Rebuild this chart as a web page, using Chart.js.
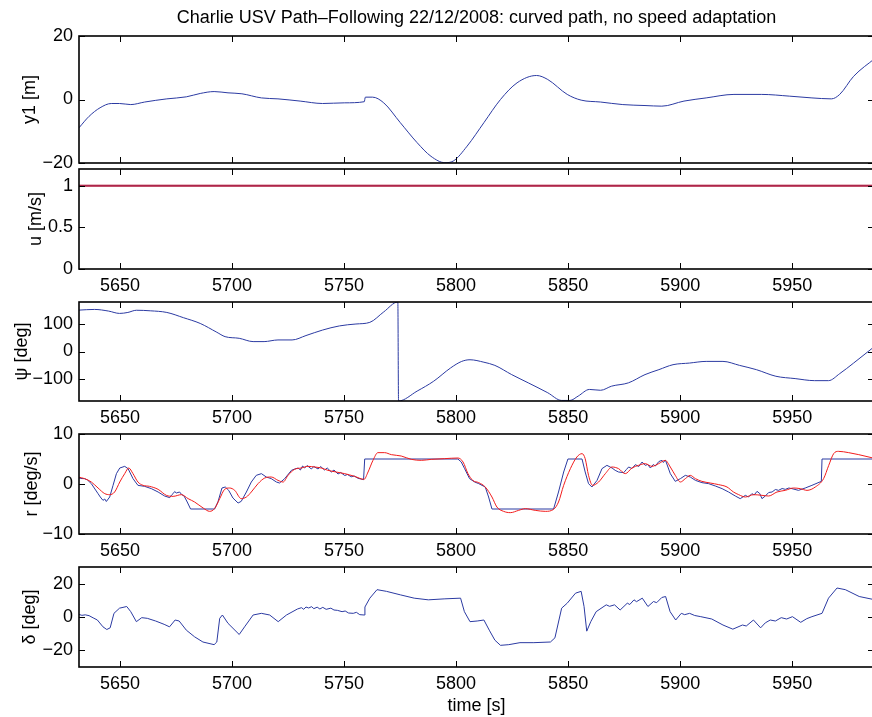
<!DOCTYPE html>
<html lang="en">
<head>
  <meta charset="UTF-8" />
  <title>Charlie USV Path-Following 22/12/2008</title>
  <style>
    html, body { margin: 0; padding: 0; background: #fff; overflow: hidden; }
    canvas.panel { position: absolute; left: 0; }
  </style>
</head>
<body>

  <canvas id="pY1" class="panel" width="874" height="175" style="top:0px"></canvas>
  <canvas id="pU" class="panel" width="874" height="142" style="top:157px"></canvas>
  <canvas id="pPsi" class="panel" width="874" height="141" style="top:290px"></canvas>
  <canvas id="pR" class="panel" width="874" height="142" style="top:422px"></canvas>
  <canvas id="pDelta" class="panel" width="874" height="162" style="top:555px"></canvas>

  <script src="https://cdn.jsdelivr.net/npm/chart.js@4.4.0/dist/chart.umd.min.js"></script>
  <script>
    // time axis
    const xRange = [5631.7, 5986.5];
    const xTicks = [5650, 5700, 5750, 5800, 5850, 5900, 5950];

    // y tick values for each panel
    const y1Ticks = [-20, 0, 20];
    const uTicks = [0, 0.5, 1];
    const psiTicks = [-100, 0, 100];
    const rTicks = [-10, 0, 10];
    const deltaTicks = [-20, 0, 20];

    // cross-track error y1 [m]  (time, value)
    const y1 = [[5631.7,-8.9],[5636.2,-5.3],[5641.1,-2.6],[5646.1,-1.26],[5649.8,-1.26],[5654.8,-1.6],[5661,-0.8],
      [5670.9,0.2],[5679.6,0.84],[5685.8,1.9],[5692,2.5],[5698.2,2.1],[5704.4,1.8],[5713.1,0.5],[5720.5,0.2],
      [5730.4,-0.5],[5740.4,-1.26],[5750.3,-1.05],[5759,-0.7],[5759.5,0.74],[5762.7,0.74],[5767.7,-1.05],
      [5775.1,-7.3],[5782.6,-13.6],[5788.8,-17.9],[5795,-19.9],[5798.7,-19.4],[5804.9,-14.7],[5812.4,-7.3],
      [5819.8,0],[5827.2,5.25],[5835.9,7.56],[5840.9,6.3],[5849.6,1.6],[5855.8,-0.2],[5864.5,-0.8],[5874.4,-1.6],
      [5884.3,-1.9],[5891.8,-2.1],[5901.7,-0.5],[5911.6,0.5],[5924,1.6],[5936.4,1.6],[5948.9,1.05],[5958.8,0.5],
      [5967.5,0.2],[5971.2,1.6],[5977.4,7.3],[5987,13]];

    // surge speed u [m/s]: desired and measured
    const uDesired = [[5631,1],[5987,1]];
    const uMeasured = [[5631,1],[5987,1]];

    // heading psi [deg]
    const psi = [[5631.7,150.5],[5638.6,153],[5644.9,147],[5649.8,138.5],[5653.5,142],[5657.3,150],[5663.5,148],
      [5670.9,142],[5678.3,123],[5685.8,102],[5693.2,70],[5696.9,54],[5703.2,48],[5709.4,36],[5714.3,36],
      [5720.5,42],[5726.8,42],[5733,58],[5740.4,78],[5747.9,93],[5755.3,100],[5761.5,106],[5767.7,144],
      [5774,180],[5774.3,-180],[5782.6,-144],[5790,-108],[5797.5,-60],[5802.5,-36],[5806.2,-30],[5812.4,-39],
      [5817.3,-50.5],[5824.8,-84],[5832.2,-114],[5840.9,-150],[5847.1,-178],[5850.8,-178],[5854.5,-162],
      [5859.5,-138],[5864.5,-141],[5869.4,-126],[5876.9,-114],[5884.3,-84],[5890.5,-66],[5896.8,-48],
      [5904.2,-42],[5911.6,-36],[5919.1,-36],[5926.5,-50.5],[5934,-66],[5942.7,-90],[5951.3,-98.5],
      [5960,-106],[5966.2,-106],[5971.2,-80.5],[5977.4,-42],[5987,20]];

    // yaw rate r [deg/s]: desired (blue, saturated at +-5) and measured (red)
    const rDesired = [[5631.3,1.27],[5632.5,1.1],[5634.2,1.07],[5635.5,0.8],[5637.2,0.07],[5640.2,-1.93],
      [5641.2,-2.6],[5642.4,-3.27],[5643.2,-3.0],[5643.9,-3.5],[5645.4,-2.6],[5646.9,-0.27],[5648.4,2.07],
      [5649.9,3.2],[5652.1,3.53],[5653.6,3.07],[5655.8,1.07],[5658,-0.27],[5661,-0.47],[5664,-0.93],[5667,-1.6],
      [5669.9,-2.4],[5672.2,-2.73],[5673,-2.2],[5673.7,-1.93],[5674.4,-1.5],[5675.1,-1.8],[5676.6,-1.6],
      [5677.5,-2.1],[5678.6,-2.4],[5680,-3.6],[5681.5,-5],[5692.2,-5],[5693.7,-3.6],[5695.5,-0.8],[5697,-0.6],
      [5698.5,-1.27],[5700.4,-2.8],[5702.7,-3.8],[5704.1,-3.47],[5706.4,-1.6],[5708.6,0.4],[5710.8,1.73],
      [5713.1,2.07],[5715.3,1.4],[5717.5,1.07],[5719.8,0.4],[5721.2,0.2],[5723.5,1.07],[5726.5,2.73],[5728,3.0],
      [5729.5,3.2],[5730.5,2.8],[5731.5,3.6],[5732.4,3.2],[5733.5,3.7],[5735.4,3.0],[5736.5,3.5],[5738.4,3.0],
      [5739.5,3.5],[5741.3,2.8],[5742.5,3.2],[5744.3,2.4],[5745.5,2.8],[5747.3,2.0],[5748.5,2.3],[5750.3,1.7],
      [5751.5,1.9],[5753.2,1.45],[5754.5,1.6],[5756.2,1.15],[5758.7,0.87],[5759.2,5],[5800.8,5],[5802.3,4.4],
      [5803.8,3.07],[5806,1.07],[5808.3,0.4],[5810.1,0.07],[5813,-0.6],[5814.5,-2.6],[5816,-5],[5843.5,-5],
      [5845.7,-1.6],[5848,2.4],[5849.9,5],[5856.2,5],[5857.6,2.4],[5859.1,0.07],[5860.6,-0.6],[5862.9,0.73],
      [5865.1,3.07],[5867.3,3.73],[5869.6,3.2],[5871,2.73],[5872.5,2.4],[5874.8,2.27],[5876,2.9],[5877,3.4],
      [5878.5,3.1],[5880,3.87],[5881.5,3.5],[5883,4.4],[5884.4,3.73],[5885.5,3.9],[5886.7,3.2],[5888,3.9],
      [5888.9,3.6],[5890.5,4.5],[5891.9,4.73],[5892.5,4.3],[5893.4,4.8],[5895.6,2.07],[5897.8,0.53],
      [5900.1,1.07],[5902.3,1.73],[5904.5,1.4],[5906.8,0.73],[5909.7,0.27],[5912.7,0.07],[5915.7,-0.4],
      [5918.7,-0.93],[5921.6,-1.6],[5924.6,-2.4],[5926.8,-2.93],[5929.1,-2.27],[5930.5,-2.6],[5932,-1.93],
      [5933,-2.2],[5934.3,-1.47],[5935.5,-1.9],[5936.5,-2.93],[5938,-2.4],[5939.5,-1.7],[5941,-1.6],
      [5942.5,-1.1],[5943.9,-1.27],[5945.5,-0.9],[5946.9,-1.07],[5948.5,-0.8],[5949.9,-0.93],[5952.8,-1.27],
      [5955.8,-0.8],[5958.8,-0.27],[5963,0.53],[5963.3,5],[5987,5]];

    const rMeasured = [[5631.3,1.4],[5634.2,1.07],[5637.2,0.4],[5640.2,-0.8],[5643.2,-1.93],[5645.4,-2.13],
      [5647.6,-1.6],[5649.9,0.4],[5652.1,2.07],[5653.9,3.2],[5655.8,2.07],[5658,0.4],[5660.3,-0.27],
      [5663.2,-0.47],[5667,-1.07],[5670.7,-2.27],[5673.7,-2.47],[5677.4,-2.13],[5680.4,-2.93],[5683.3,-3.6],
      [5687.1,-4.8],[5690,-5.47],[5692.2,-4.93],[5694.5,-2.93],[5696.7,-1.07],[5698.9,-0.8],[5701.2,-1.27],
      [5704.1,-2.93],[5706.4,-2.6],[5708.6,-1.6],[5711.6,0.07],[5714.6,1.2],[5717.5,1.4],[5720.5,0.73],
      [5722.8,0.4],[5725,1.73],[5727.9,2.93],[5730.9,3.2],[5733.9,3.53],[5736.9,3.4],[5739.8,3.2],[5742.8,2.73],
      [5746.5,2.4],[5750.3,2.07],[5754.7,1.53],[5758.9,0.93],[5760.7,2.4],[5762.9,4.73],[5765.1,6.27],
      [5768.1,6.27],[5771.1,5.87],[5775.5,5.6],[5780,4.93],[5784.5,4.73],[5788.9,4.93],[5794.9,5.07],
      [5800.8,5.2],[5803.1,4.4],[5805.3,2.07],[5807.5,0.7],[5810.1,0.27],[5813,-0.6],[5816,-2.6],[5818.2,-4.6],
      [5821.2,-5.47],[5824.2,-5.73],[5827.9,-5.27],[5830.9,-4.93],[5835.3,-5.27],[5839.8,-5.47],[5843.5,-5.07],
      [5845.7,-3.6],[5848,-0.27],[5851,3.07],[5853.9,5.4],[5856.2,6.07],[5857.6,5.07],[5859.1,1.73],
      [5860.9,-0.27],[5863.6,0.4],[5866.6,2.07],[5869.6,3.4],[5872.5,3.07],[5875.5,2.07],[5878.5,3.2],
      [5881.4,3.73],[5884.4,4.07],[5887.4,3.53],[5890.4,4.07],[5893.3,4.73],[5895.6,3.4],[5897.8,1.73],
      [5900.1,0.4],[5902.3,1.07],[5904.5,1.73],[5906.8,1.07],[5909.7,0.53],[5913.4,0.2],[5917.2,-0.13],
      [5920.9,-0.6],[5923.8,-1.6],[5926.1,-2.13],[5929.1,-2.6],[5932.8,-2.13],[5936.5,-2.27],[5939.5,-2.4],
      [5943.2,-1.6],[5946.9,-1.27],[5950.6,-0.8],[5953.6,-0.93],[5956.6,-1.27],[5960.3,-0.6],[5964,1.07],
      [5966.3,3.73],[5968.5,6.07],[5970.7,6.53],[5975.2,6.27],[5979.7,5.87],[5987,5.1]];

    // rudder angle delta [deg]
    const delta = [[5631.6,1.6],[5633,1.0],[5634.5,1.3],[5636.2,0.8],[5638,-0.5],[5639.9,-1.8],[5642.4,-5.9],
      [5644.1,-7.5],[5645.6,-6.5],[5647.3,2.2],[5649.8,5.3],[5653,6.3],[5654.8,3.2],[5657.3,-2.8],[5659.7,-0.4],
      [5662.2,-0.8],[5665.9,-2.4],[5669.7,-4.4],[5672.1,-5.9],[5674.6,-1.8],[5676.4,-2.4],[5679.6,-7.9],
      [5683.3,-11.9],[5687,-15],[5692,-16.6],[5693.2,-15],[5694.5,-0.8],[5695.7,1.2],[5698.2,-3.8],
      [5703.2,-10.5],[5705.6,-5.9],[5709.4,1.2],[5713.1,2.2],[5716.8,1.2],[5720.6,-2.8],[5724.3,1.2],
      [5729.2,4.8],[5731,5.6],[5732,4.6],[5733,6.0],[5734.2,5.4],[5735.5,6.2],[5736.5,5.0],[5738,5.9],
      [5739.2,4.8],[5740.5,5.8],[5742,4.6],[5744.1,5.3],[5745.5,4.2],[5747,4.0],[5749.1,3.2],[5750.5,3.6],
      [5752,2.4],[5754.1,2.2],[5755.5,2.8],[5757,1.4],[5759,1.2],[5759.3,6],[5761.5,11.3],[5764.7,16.4],
      [5768.9,15.4],[5775.1,13.3],[5781.3,11.3],[5787.6,10.3],[5795,10.9],[5802,11.3],[5803.7,3.2],
      [5806.2,-2.8],[5809.4,-2.4],[5812.4,-1.8],[5814.8,-7.9],[5817.3,-13.9],[5819.8,-17],[5823.5,-16.6],
      [5828.5,-15.4],[5834.7,-15.4],[5842.1,-15],[5844.1,-12.5],[5847.1,5.3],[5849.6,8.3],[5853.3,14.3],
      [5855.8,15.4],[5857.1,6.3],[5858.3,-8.5],[5860.1,-2.8],[5862.5,3.2],[5867,7.3],[5868.5,6.4],[5870.7,7.3],
      [5873.2,4.2],[5876.4,8.3],[5877.5,7.5],[5879.4,10.3],[5880.5,9.2],[5883.1,11.3],[5885.6,6.3],
      [5888.1,9.3],[5889.5,8.6],[5891.8,11.7],[5893.5,12.3],[5895.5,3.2],[5898,-1.8],[5900.5,2.2],
      [5902,1.4],[5904.2,2.2],[5906.5,0.9],[5909.2,0.2],[5914.1,-1.2],[5919.1,-4.8],[5923.5,-7.3],
      [5927.8,-4.8],[5929.5,-5.4],[5932.7,-1.8],[5935.9,-6.5],[5938,-3.5],[5940.2,-1.8],[5942.5,-2.4],
      [5945.1,-0.4],[5947.5,-1.2],[5950.1,0.2],[5953.8,-3.2],[5956.5,-1.0],[5958.8,0.2],[5963.3,2.2],
      [5966.2,11.3],[5970,17.4],[5973.7,16.4],[5979.9,12.3],[5987,10.3]];

    const BLUE = '#2b3aa2';
    const RED = '#f21c1c';

    Chart.defaults.font.family = '"Liberation Sans", Arial, sans-serif';
    Chart.defaults.font.size = 18;
    Chart.defaults.color = '#000';

    const pts = arr => arr.map(p => ({x: p[0], y: p[1]}));
    const fmt = v => (v < 0 ? '\u2212' + (-v) : String(v));

    // box round the axes with inward ticks, as MATLAB draws it
    const framePlugin = {
      id: 'frame',
      afterDatasetsDraw(chart, args, opts) {
        const {ctx, chartArea: a, scales} = chart;
        ctx.save();
        ctx.strokeStyle = '#000';
        ctx.lineWidth = 1;
        ctx.beginPath();
        xTicks.forEach(v => {
          const px = Math.round(scales.x.getPixelForValue(v)) + 0.5;
          ctx.moveTo(px, a.top); ctx.lineTo(px, a.top + 6);
          ctx.moveTo(px, a.bottom); ctx.lineTo(px, a.bottom - 6);
        });
        opts.yTicks.forEach(v => {
          const py = Math.round(scales.y.getPixelForValue(v)) + 0.5;
          ctx.moveTo(a.left, py); ctx.lineTo(a.left + 6, py);
          ctx.moveTo(a.right, py); ctx.lineTo(a.right - 6, py);
        });
        ctx.stroke();
        ctx.lineWidth = 1.6;
        ctx.strokeRect(a.left, a.top, a.right - a.left, a.bottom - a.top);
        ctx.restore();
      }
    };

    function line(data, color, opts) {
      return Object.assign({
        data: pts(data),
        borderColor: color,
        borderWidth: 1,
        pointRadius: 0,
        fill: false,
        tension: 0,
        xAxisID: 'x',
        yAxisID: 'y'
      }, opts || {});
    }

    function makePanel(id, o) {
      const scales = {
        x: {
          type: 'linear',
          min: xRange[0],
          max: xRange[1],
          display: o.xLabels,
          grid: { display: false, drawTicks: false },
          border: { display: false },
          afterBuildTicks: s => { s.ticks = xTicks.map(v => ({ value: v })); },
          afterFit: s => { s.height = o.xHeight || 0; s.paddingLeft = 0; s.paddingRight = 0; },
          ticks: { padding: 6, maxRotation: 0, autoSkip: false, callback: v => String(v) },
          title: o.xTitle
            ? { display: true, text: o.xTitle, padding: { top: 0, bottom: 0 } }
            : { display: false }
        },
        y: {
          type: 'linear',
          min: o.yMin,
          max: o.yMax,
          grid: { display: false, drawTicks: false },
          border: { display: false },
          afterBuildTicks: s => { s.ticks = o.yTicks.map(v => ({ value: v })); },
          afterFit: s => { s.width = 79; s.paddingTop = 0; s.paddingBottom = 0; },
          ticks: { padding: 6, autoSkip: false, callback: fmt },
          title: { display: true, text: o.yTitle, padding: { top: o.yTitlePad, bottom: 0 } }
        }
      };
      if (o.topTitle) {
        scales.xTop = {
          type: 'linear',
          position: 'top',
          min: xRange[0],
          max: xRange[1],
          grid: { display: false, drawTicks: false },
          border: { display: false },
          ticks: { display: false },
          afterFit: s => { s.height = 36; s.paddingLeft = 0; s.paddingRight = 0; },
          title: { display: true, text: o.topTitle, padding: { top: 7, bottom: 0 } }
        };
      }
      return new Chart(document.getElementById(id), {
        type: 'line',
        data: { datasets: o.datasets },
        options: {
          responsive: false,
          animation: false,
          layout: { padding: { top: o.padTop, bottom: o.padBottom || 0, left: 0, right: 0 } },
          plugins: {
            legend: { display: false },
            tooltip: { enabled: false },
            frame: { yTicks: o.yTicks }
          },
          scales: scales
        },
        plugins: [framePlugin]
      });
    }

    makePanel('pY1', {
      topTitle: 'Charlie USV Path\u2013Following 22/12/2008: curved path, no speed adaptation',
      padTop: 0, padBottom: 12, xLabels: false,
      yMin: -20, yMax: 20, yTicks: y1Ticks, yTitle: 'y1 [m]', yTitlePad: 19,
      datasets: [line(y1, BLUE, { cubicInterpolationMode: 'monotone' })]
    });

    makePanel('pU', {
      padTop: 12, xLabels: true, xHeight: 30,
      yMin: 0, yMax: 1.2, yTicks: uTicks, yTitle: 'u [m/s]', yTitlePad: 25,
      datasets: [
        line(uMeasured, 'rgba(43,58,162,0.35)', { borderWidth: 2 }),
        line(uDesired, RED, { borderWidth: 2 })
      ]
    });

    makePanel('pPsi', {
      padTop: 12, xLabels: true, xHeight: 30,
      yMin: -180, yMax: 180, yTicks: psiTicks, yTitle: '\u03c8 [deg]', yTitlePad: 11,
      datasets: [line(psi, BLUE, { cubicInterpolationMode: 'monotone' })]
    });

    makePanel('pR', {
      padTop: 12, xLabels: true, xHeight: 30,
      yMin: -10, yMax: 10, yTicks: rTicks, yTitle: 'r [deg/s]', yTitlePad: 21,
      datasets: [
        line(rMeasured, RED, { cubicInterpolationMode: 'monotone' }),
        line(rDesired, BLUE)
      ]
    });

    makePanel('pDelta', {
      padTop: 12, xLabels: true, xHeight: 50, xTitle: 'time [s]',
      yMin: -30, yMax: 30, yTicks: deltaTicks, yTitle: '\u03b4 [deg]', yTitlePad: 19,
      datasets: [line(delta, BLUE)]
    });
  </script>
</body>
</html>
